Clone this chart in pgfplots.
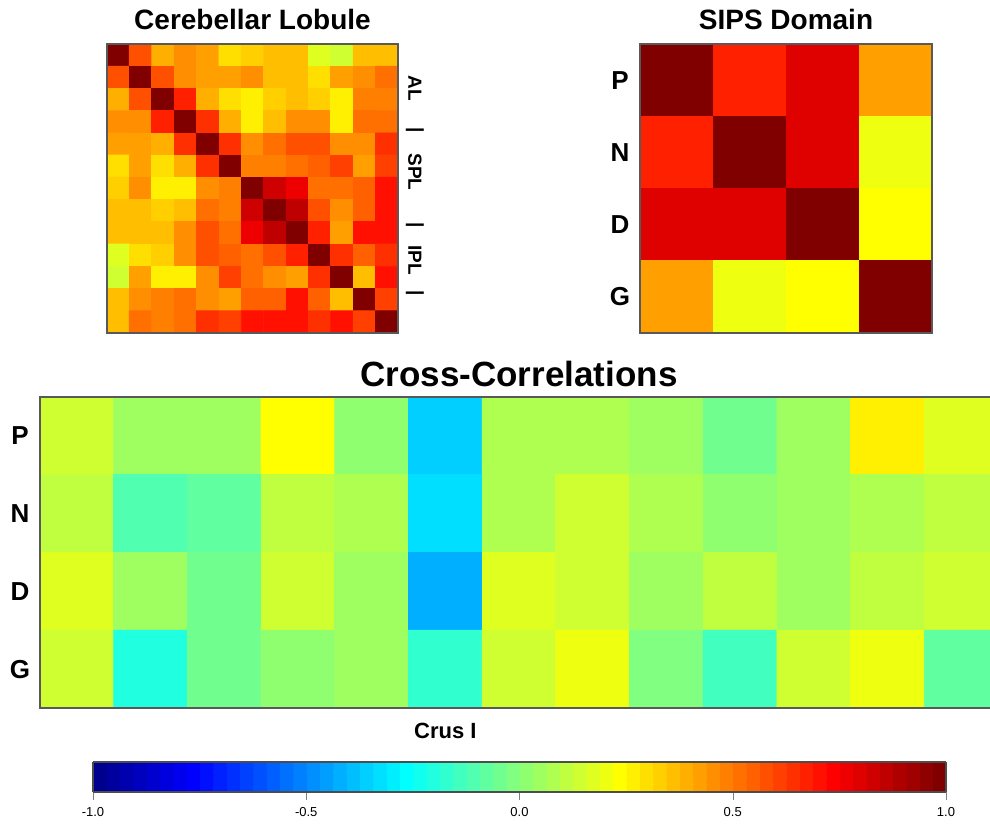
\documentclass[border=0pt]{standalone}
\usepackage{pgfplots}
\pgfplotsset{compat=1.18}
\usepackage{fontspec}
\setmainfont{Liberation Sans}

\pgfplotsset{
  colormap={tim}{
    rgb255=(0,0,143) rgb255=(0,0,159) rgb255=(0,0,175) rgb255=(0,0,191) rgb255=(0,0,207) rgb255=(0,0,223) rgb255=(0,0,239) rgb255=(0,0,255)
    rgb255=(0,16,255) rgb255=(0,32,255) rgb255=(0,48,255) rgb255=(0,64,255) rgb255=(0,80,255) rgb255=(0,96,255) rgb255=(0,112,255) rgb255=(0,128,255)
    rgb255=(0,143,255) rgb255=(0,159,255) rgb255=(0,175,255) rgb255=(0,191,255) rgb255=(0,207,255) rgb255=(0,223,255) rgb255=(0,239,255) rgb255=(0,255,255)
    rgb255=(16,255,239) rgb255=(32,255,223) rgb255=(48,255,207) rgb255=(64,255,191) rgb255=(80,255,175) rgb255=(96,255,159) rgb255=(112,255,143) rgb255=(128,255,128)
    rgb255=(143,255,112) rgb255=(159,255,96) rgb255=(175,255,80) rgb255=(191,255,64) rgb255=(207,255,48) rgb255=(223,255,32) rgb255=(239,255,16) rgb255=(255,255,0)
    rgb255=(255,239,0) rgb255=(255,223,0) rgb255=(255,207,0) rgb255=(255,191,0) rgb255=(255,175,0) rgb255=(255,159,0) rgb255=(255,143,0) rgb255=(255,128,0)
    rgb255=(255,112,0) rgb255=(255,96,0) rgb255=(255,80,0) rgb255=(255,64,0) rgb255=(255,48,0) rgb255=(255,32,0) rgb255=(255,16,0) rgb255=(255,0,0)
    rgb255=(239,0,0) rgb255=(223,0,0) rgb255=(207,0,0) rgb255=(191,0,0) rgb255=(175,0,0) rgb255=(159,0,0) rgb255=(143,0,0) rgb255=(128,0,0)
  },
  hm/.style={
    scale only axis, enlargelimits=false, axis on top, y dir=reverse,
    colormap name=tim, colormap access=piecewise constant,
    point meta min=-1, point meta max=1,
    xtick=\empty, ytick=\empty, major tick length=0pt,
    axis line style={draw=black!65, line width=0.8pt},
    clip=false,
  },
}

\begin{document}
\begin{tikzpicture}
\useasboundingbox (0,0) rectangle (495pt,414pt);

% ---------------- Cerebellar Lobule ----------------
\begin{axis}[hm, at={(53.5pt,247.5pt)}, anchor=south west,
  width=145.5pt, height=144.5pt,
  xmin=0.5, xmax=13.5, ymin=0.5, ymax=13.5]
\addplot[matrix plot*, mesh/cols=13, point meta=explicit] table[row sep=\\, x=x, y=y, meta=z] {
x y z\\
1 1 1.00\\ 2 1 0.58\\ 3 1 0.39\\ 4 1 0.45\\ 5 1 0.42\\ 6 1 0.30\\ 7 1 0.33\\ 8 1 0.36\\ 9 1 0.36\\ 10 1 0.17\\ 11 1 0.14\\ 12 1 0.36\\ 13 1 0.36\\
1 2 0.58\\ 2 2 1.00\\ 3 2 0.58\\ 4 2 0.45\\ 5 2 0.42\\ 6 2 0.42\\ 7 2 0.45\\ 8 2 0.36\\ 9 2 0.36\\ 10 2 0.30\\ 11 2 0.42\\ 12 2 0.45\\ 13 2 0.52\\
1 3 0.39\\ 2 3 0.58\\ 3 3 1.00\\ 4 3 0.67\\ 5 3 0.39\\ 6 3 0.30\\ 7 3 0.27\\ 8 3 0.33\\ 9 3 0.36\\ 10 3 0.33\\ 11 3 0.27\\ 12 3 0.48\\ 13 3 0.48\\
1 4 0.45\\ 2 4 0.45\\ 3 4 0.67\\ 4 4 1.00\\ 5 4 0.64\\ 6 4 0.39\\ 7 4 0.27\\ 8 4 0.36\\ 9 4 0.45\\ 10 4 0.45\\ 11 4 0.27\\ 12 4 0.52\\ 13 4 0.52\\
1 5 0.42\\ 2 5 0.42\\ 3 5 0.39\\ 4 5 0.64\\ 5 5 1.00\\ 6 5 0.64\\ 7 5 0.45\\ 8 5 0.52\\ 9 5 0.58\\ 10 5 0.58\\ 11 5 0.45\\ 12 5 0.45\\ 13 5 0.64\\
1 6 0.30\\ 2 6 0.42\\ 3 6 0.30\\ 4 6 0.39\\ 5 6 0.64\\ 6 6 1.00\\ 7 6 0.48\\ 8 6 0.48\\ 9 6 0.52\\ 10 6 0.55\\ 11 6 0.61\\ 12 6 0.42\\ 13 6 0.61\\
1 7 0.33\\ 2 7 0.45\\ 3 7 0.27\\ 4 7 0.27\\ 5 7 0.45\\ 6 7 0.48\\ 7 7 1.00\\ 8 7 0.83\\ 9 7 0.77\\ 10 7 0.52\\ 11 7 0.52\\ 12 7 0.55\\ 13 7 0.70\\
1 8 0.36\\ 2 8 0.36\\ 3 8 0.33\\ 4 8 0.36\\ 5 8 0.52\\ 6 8 0.48\\ 7 8 0.83\\ 8 8 1.00\\ 9 8 0.86\\ 10 8 0.58\\ 11 8 0.45\\ 12 8 0.55\\ 13 8 0.70\\
1 9 0.36\\ 2 9 0.36\\ 3 9 0.36\\ 4 9 0.45\\ 5 9 0.58\\ 6 9 0.52\\ 7 9 0.77\\ 8 9 0.86\\ 9 9 1.00\\ 10 9 0.67\\ 11 9 0.42\\ 12 9 0.70\\ 13 9 0.70\\
1 10 0.17\\ 2 10 0.30\\ 3 10 0.33\\ 4 10 0.45\\ 5 10 0.58\\ 6 10 0.55\\ 7 10 0.52\\ 8 10 0.58\\ 9 10 0.67\\ 10 10 1.00\\ 11 10 0.64\\ 12 10 0.55\\ 13 10 0.64\\
1 11 0.14\\ 2 11 0.42\\ 3 11 0.27\\ 4 11 0.27\\ 5 11 0.45\\ 6 11 0.61\\ 7 11 0.52\\ 8 11 0.45\\ 9 11 0.42\\ 10 11 0.64\\ 11 11 1.00\\ 12 11 0.36\\ 13 11 0.70\\
1 12 0.36\\ 2 12 0.45\\ 3 12 0.48\\ 4 12 0.52\\ 5 12 0.45\\ 6 12 0.42\\ 7 12 0.55\\ 8 12 0.55\\ 9 12 0.70\\ 10 12 0.55\\ 11 12 0.36\\ 12 12 1.00\\ 13 12 0.61\\
1 13 0.36\\ 2 13 0.52\\ 3 13 0.48\\ 4 13 0.52\\ 5 13 0.64\\ 6 13 0.61\\ 7 13 0.70\\ 8 13 0.70\\ 9 13 0.70\\ 10 13 0.64\\ 11 13 0.70\\ 12 13 0.61\\ 13 13 1.00\\
};
\node[anchor=base, font=\bfseries\fontsize{14}{16}\selectfont] at (axis description cs:0.5,1) [yshift=7pt] {Cerebellar Lobule};
\begin{scope}[every node/.style={rotate=-90, font=\bfseries\fontsize{9.5}{11}\selectfont, anchor=center}]
\node at (axis cs:14.26,2.48) {AL};
\node at (axis cs:14.26,4.37) {|};
\node at (axis cs:14.26,6.26) {SPL};
\node at (axis cs:14.26,8.64) {|};
\node at (axis cs:14.26,10.22) {IPL};
\node at (axis cs:14.26,11.7) {|};
\end{scope}
\end{axis}

% ---------------- SIPS Domain ----------------
\begin{axis}[hm, at={(320pt,247.5pt)}, anchor=south west,
  width=146pt, height=144.5pt,
  xmin=0.5, xmax=4.5, ymin=0.5, ymax=4.5,
  ytick={1,2,3,4}, yticklabels={P,N,D,G},
  yticklabel style={font=\bfseries\fontsize{13}{15}\selectfont, anchor=center, xshift=-10pt}]
\addplot[matrix plot*, mesh/cols=4, point meta=explicit] table[row sep=\\, x=x, y=y, meta=z] {
x y z\\
1 1 1.00\\ 2 1 0.67\\ 3 1 0.80\\ 4 1 0.42\\
1 2 0.67\\ 2 2 1.00\\ 3 2 0.80\\ 4 2 0.20\\
1 3 0.80\\ 2 3 0.80\\ 3 3 1.00\\ 4 3 0.23\\
1 4 0.42\\ 2 4 0.20\\ 3 4 0.23\\ 4 4 1.00\\
};
\node[anchor=base, font=\bfseries\fontsize{14}{16}\selectfont] at (axis description cs:0.5,1) [yshift=7pt] {SIPS Domain};
\end{axis}

% ---------------- Cross-Correlations ----------------
\begin{axis}[hm, at={(20pt,60pt)}, anchor=south west,
  width=479pt, height=155.5pt,
  xmin=0.5, xmax=13.5, ymin=0.5, ymax=4.5,
  ytick={1,2,3,4}, yticklabels={P,N,D,G},
  yticklabel style={font=\bfseries\fontsize{13}{15}\selectfont, anchor=center, xshift=-10pt},
  colorbar horizontal,
  colorbar shift/.style={xshift=26.5pt, yshift=-27pt},
  colorbar style={
    at={(parent axis.south west)}, anchor=north west,
    scale only axis, width=426.5pt, height=15pt,
    xtick={-1,-0.5,0,0.5,1}, ytick=\empty, xtick pos=left,
    tick align=outside, major tick length=4pt,
    xticklabel style={font=\fontsize{6.5}{7}\selectfont,
      /pgf/number format/.cd, fixed, fixed zerofill, precision=1, assume math mode=true},
    axis line style={draw=black!70, line width=0.6pt},
  }]
\addplot[matrix plot*, mesh/cols=13, point meta=explicit] table[row sep=\\, x=x, y=y, meta=z] {
x y z\\
1 1 0.14\\ 2 1 0.05\\ 3 1 0.05\\ 4 1 0.23\\ 5 1 0.02\\ 6 1 -0.36\\ 7 1 0.08\\ 8 1 0.08\\ 9 1 0.05\\ 10 1 -0.05\\ 11 1 0.05\\ 12 1 0.27\\ 13 1 0.17\\
1 2 0.11\\ 2 2 -0.11\\ 3 2 -0.08\\ 4 2 0.11\\ 5 2 0.08\\ 6 2 -0.33\\ 7 2 0.08\\ 8 2 0.14\\ 9 2 0.08\\ 10 2 0.02\\ 11 2 0.05\\ 12 2 0.08\\ 13 2 0.11\\
1 3 0.17\\ 2 3 0.05\\ 3 3 -0.05\\ 4 3 0.14\\ 5 3 0.05\\ 6 3 -0.42\\ 7 3 0.17\\ 8 3 0.14\\ 9 3 0.05\\ 10 3 0.11\\ 11 3 0.05\\ 12 3 0.11\\ 13 3 0.14\\
1 4 0.14\\ 2 4 -0.20\\ 3 4 -0.05\\ 4 4 0.02\\ 5 4 0.05\\ 6 4 -0.17\\ 7 4 0.14\\ 8 4 0.20\\ 9 4 -0.02\\ 10 4 -0.14\\ 11 4 0.14\\ 12 4 0.20\\ 13 4 -0.08\\
};
\node[anchor=base, font=\bfseries\fontsize{17.5}{20}\selectfont] at (axis description cs:0.5,1) [yshift=5pt] {Cross-Correlations};
\node[anchor=center, font=\bfseries\fontsize{11}{13}\selectfont] at (axis cs:6,4.5) [yshift=-11.25pt] {Crus I};
\end{axis}
\end{tikzpicture}
\end{document}
